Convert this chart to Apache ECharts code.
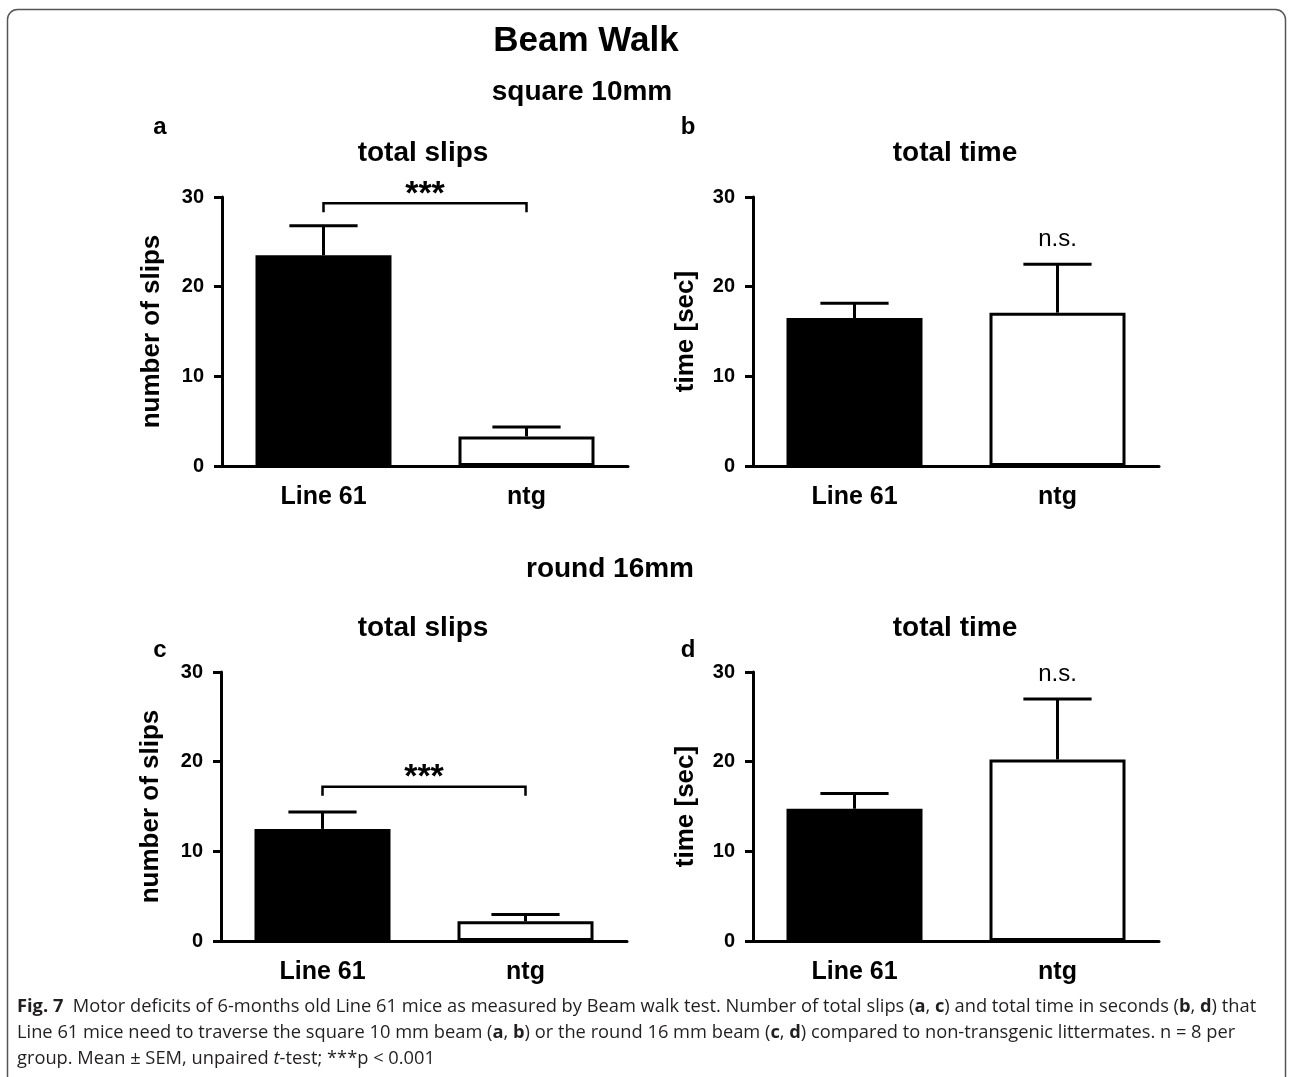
<!DOCTYPE html>
<html><head><meta charset="utf-8">
<script src="https://cdn.jsdelivr.net/npm/echarts@6/dist/echarts.min.js"></script>
<style>html,body{margin:0;padding:0;background:#fff}#c{width:1292px;height:1077px}</style>
</head><body><div id="c"></div>
<script>
// ---- data ----
const categories = ['Line 61', 'ntg'];
const slipsSquareMean = [23.5, 3.3];
const slipsSquareSem  = [3.3, 1.05];
const timeSquareMean  = [16.5, 17.1];
const timeSquareSem   = [1.65, 5.4];
const slipsRoundMean  = [12.5, 2.2];
const slipsRoundSem   = [1.9, 0.75];
const timeRoundMean   = [14.75, 20.25];
const timeRoundSem    = [1.7, 6.75];
const sigLabels   = ['***', 'n.s.', '***', 'n.s.'];
const sigBrackets = [29.3, null, 17.2, null];
const yMin = 0, yMax = 30, yStep = 10;
const yNames = ['number of slips', 'time [sec]', 'number of slips', 'time [sec]'];
const panelTitles = ['total slips', 'total time', 'total slips', 'total time'];
const panelLetters = ['a', 'b', 'c', 'd'];

const means = [slipsSquareMean, timeSquareMean, slipsRoundMean, timeRoundMean];
const sems  = [slipsSquareSem, timeSquareSem, slipsRoundSem, timeRoundSem];

// ---- layout ----
const grids = [
  {left: 222, top: 197, width: 406, height: 269},
  {left: 753, top: 197, width: 406, height: 269},
  {left: 221, top: 672, width: 406, height: 269},
  {left: 753, top: 672, width: 406, height: 269}
];
const FONT = 'Liberation Sans, Arial, Helvetica, sans-serif';

const option = {
  animation: false,
  backgroundColor: '#fff',
  grid: grids,
  xAxis: [], yAxis: [], series: [],
  graphic: []
};

grids.forEach((g, p) => {
  option.xAxis.push({
    type: 'category', gridIndex: p, data: categories,
    axisLine: {lineStyle: {color: '#000', width: 3}},
    axisTick: {alignWithLabel: true, length: 8, lineStyle: {color: '#000', width: 3}},
    axisLabel: {color: '#000', fontFamily: FONT, fontWeight: 'bold', fontSize: 25, margin: 19}
  });
  option.yAxis.push({
    type: 'value', gridIndex: p, min: yMin, max: yMax, interval: yStep,
    name: yNames[p], nameLocation: 'middle', nameGap: p % 2 === 0 ? 57 : 54,
    nameTextStyle: {color: '#000', fontFamily: FONT, fontWeight: 'bold', fontSize: 26},
    axisLine: {show: true, lineStyle: {color: '#000', width: 3}},
    axisTick: {show: true, length: 8, lineStyle: {color: '#000', width: 3}},
    splitLine: {show: false},
    axisLabel: {color: '#000', fontFamily: FONT, fontWeight: 'bold', fontSize: 20, margin: 18}
  });
  option.series.push({
    type: 'bar', xAxisIndex: p, yAxisIndex: p, barWidth: 136,
    data: means[p].map((v, i) => ({
      value: v,
      itemStyle: i === 0 ? {color: '#000', borderColor: '#000', borderWidth: 0}
                         : {color: '#fff', borderColor: '#000', borderWidth: 3}
    }))
  });
  // error bars (upper whisker only)
  option.series.push({
    type: 'custom', xAxisIndex: p, yAxisIndex: p, z: 5,
    data: means[p].map((m, i) => [i, m, m + sems[p][i]]),
    renderItem: (params, api) => {
      const base = api.coord([api.value(0), api.value(1)]);
      const top = api.coord([api.value(0), api.value(2)]);
      const band = api.size([1, 0])[0];
      const hw = band * 0.168;
      return {type: 'group', children: [
        {type: 'line', shape: {x1: base[0], y1: base[1], x2: top[0], y2: top[1]}, style: {stroke: '#000', lineWidth: 3}},
        {type: 'line', shape: {x1: top[0] - hw, y1: top[1], x2: top[0] + hw, y2: top[1]}, style: {stroke: '#000', lineWidth: 3}}
      ]};
    }
  });
  // significance annotation
  if (sigBrackets[p] !== null) {
    option.series.push({
      type: 'custom', xAxisIndex: p, yAxisIndex: p, z: 6,
      data: [[0, 1, sigBrackets[p]]],
      renderItem: (params, api) => {
        const a = api.coord([api.value(0), api.value(2)]);
        const b = api.coord([api.value(1), api.value(2)]);
        return {type: 'group', children: [
          {type: 'polyline', shape: {points: [[a[0], a[1] + 9], [a[0], a[1]], [b[0], b[1]], [b[0], b[1] + 9]]},
           style: {stroke: '#000', lineWidth: 2.5, fill: null}},
          {type: 'text', style: {text: sigLabels[p], x: (a[0] + b[0]) / 2, y: a[1] - 9,
           font: 'bold 34px ' + FONT, fill: '#000', align: 'center', verticalAlign: 'middle',
           textAlign: 'center', textVerticalAlign: 'middle'}}
        ]};
      }
    });
  } else {
    option.series.push({
      type: 'custom', xAxisIndex: p, yAxisIndex: p, z: 6,
      data: [[1, means[p][1] + sems[p][1]]],
      renderItem: (params, api) => {
        const c = api.coord([api.value(0), api.value(1)]);
        return {type: 'text', style: {text: sigLabels[p], x: c[0], y: c[1] - 25,
          font: '24px ' + FONT, fill: '#000', align: 'center', verticalAlign: 'middle',
          textAlign: 'center', textVerticalAlign: 'middle'}};
      }
    });
  }
});

function txt(text, x, y, font, extra) {
  return Object.assign({type: 'text', silent: true, style: {text, x, y, font, fill: '#000',
    align: 'center', verticalAlign: 'middle', textAlign: 'center', textVerticalAlign: 'middle'}}, extra || {});
}

option.graphic.push(
  {type: 'rect', silent: true, shape: {x: 7.5, y: 9.5, width: 1278, height: 1100, r: 10},
   style: {fill: null, stroke: '#555', lineWidth: 1.5}},
  txt('Beam Walk', 586, 41, 'bold 35px ' + FONT),
  txt('square 10mm', 582, 92, 'bold 28px ' + FONT),
  txt('round 16mm', 610, 569, 'bold 28px ' + FONT),
  txt(panelTitles[0], 423, 153, 'bold 28px ' + FONT),
  txt(panelTitles[1], 955, 153, 'bold 28px ' + FONT),
  txt(panelTitles[2], 423, 628, 'bold 28px ' + FONT),
  txt(panelTitles[3], 955, 628, 'bold 28px ' + FONT),
  txt(panelLetters[0], 160, 127, 'bold 24px ' + FONT),
  txt(panelLetters[1], 688, 127, 'bold 24px ' + FONT),
  txt(panelLetters[2], 160, 650, 'bold 24px ' + FONT),
  txt(panelLetters[3], 688, 650, 'bold 24px ' + FONT)
);

const CAP = '"Open Sans", "Noto Sans", sans-serif';
const CAPSIZE = 18.3;
const capRich = {
  b: {fontFamily: CAP, fontWeight: 'bold', fontSize: CAPSIZE, fill: '#231f20', color: '#231f20'},
  i: {fontFamily: CAP, fontStyle: 'italic', fontSize: CAPSIZE, fill: '#231f20', color: '#231f20'}
};
const capLines = [
  '{b|Fig. 7}  Motor deficits of 6-months old Line 61 mice as measured by Beam walk test. Number of total slips ({b|a}, {b|c}) and total time in seconds ({b|b}, {b|d}) that',
  'Line 61 mice need to traverse the square 10 mm beam ({b|a}, {b|b}) or the round 16 mm beam ({b|c}, {b|d}) compared to non-transgenic littermates. n = 8 per',
  'group. Mean ± SEM, unpaired {i|t}-test; ***p < 0.001'
];
capLines.forEach((line, k) => {
  option.graphic.push({type: 'text', silent: true, style: {
    text: line, x: 17, y: 1007 + k * 26, font: CAPSIZE + 'px ' + CAP, fill: '#231f20',
    align: 'left', verticalAlign: 'middle', textAlign: 'left', textVerticalAlign: 'middle', rich: capRich
  }});
});

const chart = echarts.init(document.getElementById('c'), null, {renderer: 'canvas'});
chart.setOption(option);
</script></body></html>
